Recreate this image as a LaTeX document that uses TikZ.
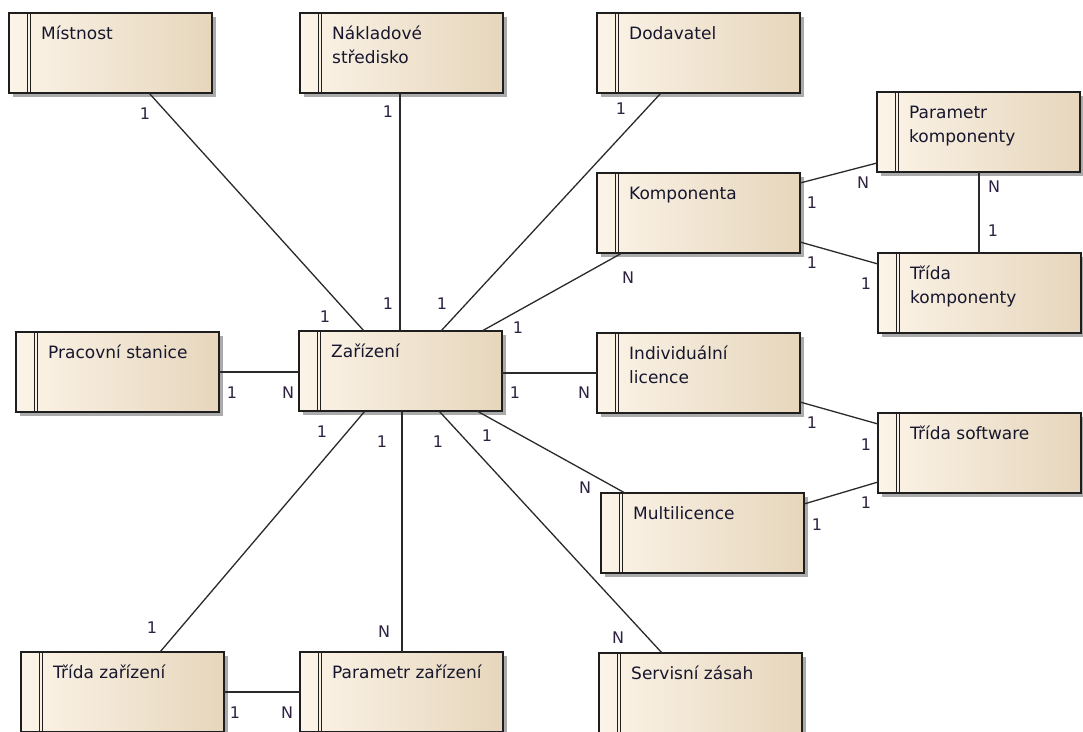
\documentclass[tikz,border=0pt]{standalone}
\usepackage{fontspec}
\newfontfamily\entfont{DejaVu Sans}
\usetikzlibrary{shadows}
\definecolor{boxline}{HTML}{1E1E1E}
\definecolor{fillL}{HTML}{FCF4E8}
\definecolor{fillR}{HTML}{E6D6BC}
\definecolor{txt}{HTML}{16162E}
\definecolor{cardc}{HTML}{2E2240}
\definecolor{relc}{HTML}{2A2A2A}
\definecolor{shadowc}{HTML}{ABABAB}
% entity titles: one or more lines, baseline on the first line
\newcommand\enttitle[1]{\begin{tabular}[t]{@{}l@{}}#1\end{tabular}}
\tikzset{
  entity/.style={draw=boxline, line width=1.4pt, minimum width=203pt,
    minimum height=80pt, anchor=north west, inner sep=0pt, outer sep=0pt,
    left color=fillL, right color=fillR,
    drop shadow={shadow xshift=4pt, shadow yshift=-4pt, fill=shadowc, opacity=1},
    path picture={
      \draw[boxline, line width=0.9pt]
        ([xshift=18pt]path picture bounding box.north west) --
        ([xshift=18pt]path picture bounding box.south west);
      \draw[boxline, line width=0.9pt]
        ([xshift=21.5pt]path picture bounding box.north west) --
        ([xshift=21.5pt]path picture bounding box.south west);
    }},
  etext/.style={anchor=base west, inner sep=0pt, text=txt,
    font=\entfont\fontsize{17}{24}\selectfont},
  card/.style={inner sep=0pt, text=cardc, font=\entfont\fontsize{16}{18}\selectfont},
  rel/.style={draw=relc, line width=1.3pt}
}
\begin{document}
\begin{tikzpicture}[x=1pt, y=-1pt]
\useasboundingbox (0,0) rectangle (1083,731);
\clip (0,0) rectangle (1083,731);
\fill[white] (0,0) rectangle (1083,731);

% entities (top left corners)
\node[entity] (mist)  at (9,13)    {};
\node[entity] (nakl)  at (300,13)  {};
\node[entity] (dod)   at (597,13)  {};
\node[entity] (park)  at (877,92)  {};
\node[entity] (komp)  at (597,173) {};
\node[entity] (trk)   at (878,253) {};
\node[entity] (prac)  at (16,332)  {};
\node[entity] (zar)   at (299,331) {};
\node[entity] (indl)  at (597,333) {};
\node[entity] (trsw)  at (878,413) {};
\node[entity] (multi) at (601,493) {};
\node[entity] (trz)   at (21,652)  {};
\node[entity] (parz)  at (300,652) {};
\node[entity] (serv)  at (599,653) {};

% entity names
\foreach \e/\t in {mist/{Místnost}, nakl/{Nákladové\\středisko}, dod/{Dodavatel},
    park/{Parametr\\komponenty}, komp/{Komponenta}, trk/{Třída\\komponenty},
    prac/{Pracovní stanice}, zar/{Zařízení}, indl/{Individuální\\licence},
    trsw/{Třída software}, multi/{Multilicence}, trz/{Třída zařízení},
    parz/{Parametr zařízení}, serv/{Servisní zásah}}
  \node[etext] (\e-name) at ([xshift=32pt, yshift=-26pt]\e.north west) {\enttitle{\t}};

% relationships
\draw[rel] ([xshift=140pt]mist.south west) -- ([xshift=65pt]zar.north west);
\draw[rel] ([xshift=100pt]nakl.south west) -- ([xshift=101pt]zar.north west);
\draw[rel] ([xshift=64pt]dod.south west)   -- ([xshift=142pt]zar.north west);
\draw[rel] ([xshift=25pt]komp.south west)  -- ([xshift=183pt]zar.north west);
\draw[rel] (prac.east) -- (prac.east -| zar.west);
\draw[rel] (indl.west -| zar.east) -- (indl.west);
\draw[rel] ([xshift=66pt]zar.south west)  -- ([xshift=139pt]trz.north west);
\draw[rel] ([xshift=103pt]zar.south west) -- ([xshift=102pt]parz.north west);
\draw[rel] ([xshift=140pt]zar.south west) -- ([xshift=63pt]serv.north west);
\draw[rel] ([xshift=178pt]zar.south west) -- ([xshift=24pt]multi.north west);
\draw[rel] (trz.east) -- (parz.west);
\draw[rel] ([yshift=-10pt]komp.north east) -- ([yshift=9pt]park.south west);
\draw[rel] ([yshift=11pt]komp.south east)  -- ([yshift=-11pt]trk.north west);
\draw[rel] ([xshift=102pt]park.south west) -- ([xshift=101pt]trk.north west);
\draw[rel] ([yshift=11pt]indl.south east)  -- ([yshift=-11pt]trsw.north west);
\draw[rel] ([yshift=-11pt]multi.north east) -- ([yshift=11pt]trsw.south west);

% cardinalities
\node[card] (c01) at (145,114) {1};
\node[card] (c02) at (325,317) {1};
\node[card] (c03) at (388,112) {1};
\node[card] (c04) at (388,304) {1};
\node[card] (c05) at (621,109) {1};
\node[card] (c06) at (442,304) {1};
\node[card] (c07) at (628,278) {N};
\node[card] (c08) at (518,328) {1};
\node[card] (c09) at (232,393) {1};
\node[card] (c10) at (288,393) {N};
\node[card] (c11) at (515,393) {1};
\node[card] (c12) at (584,393) {N};
\node[card] (c13) at (322,432) {1};
\node[card] (c14) at (382,442) {1};
\node[card] (c15) at (438,442) {1};
\node[card] (c16) at (487,436) {1};
\node[card] (c17) at (585,488) {N};
\node[card] (c18) at (618,638) {N};
\node[card] (c19) at (384,632) {N};
\node[card] (c20) at (152,628) {1};
\node[card] (c21) at (235,713) {1};
\node[card] (c22) at (287,713) {N};
\node[card] (c23) at (812,203) {1};
\node[card] (c24) at (863,183) {N};
\node[card] (c25) at (812,263) {1};
\node[card] (c26) at (866,284) {1};
\node[card] (c27) at (994,187) {N};
\node[card] (c28) at (993,231) {1};
\node[card] (c29) at (812,423) {1};
\node[card] (c30) at (866,445) {1};
\node[card] (c31) at (817,525) {1};
\node[card] (c32) at (866,503) {1};
\end{tikzpicture}
\end{document}
